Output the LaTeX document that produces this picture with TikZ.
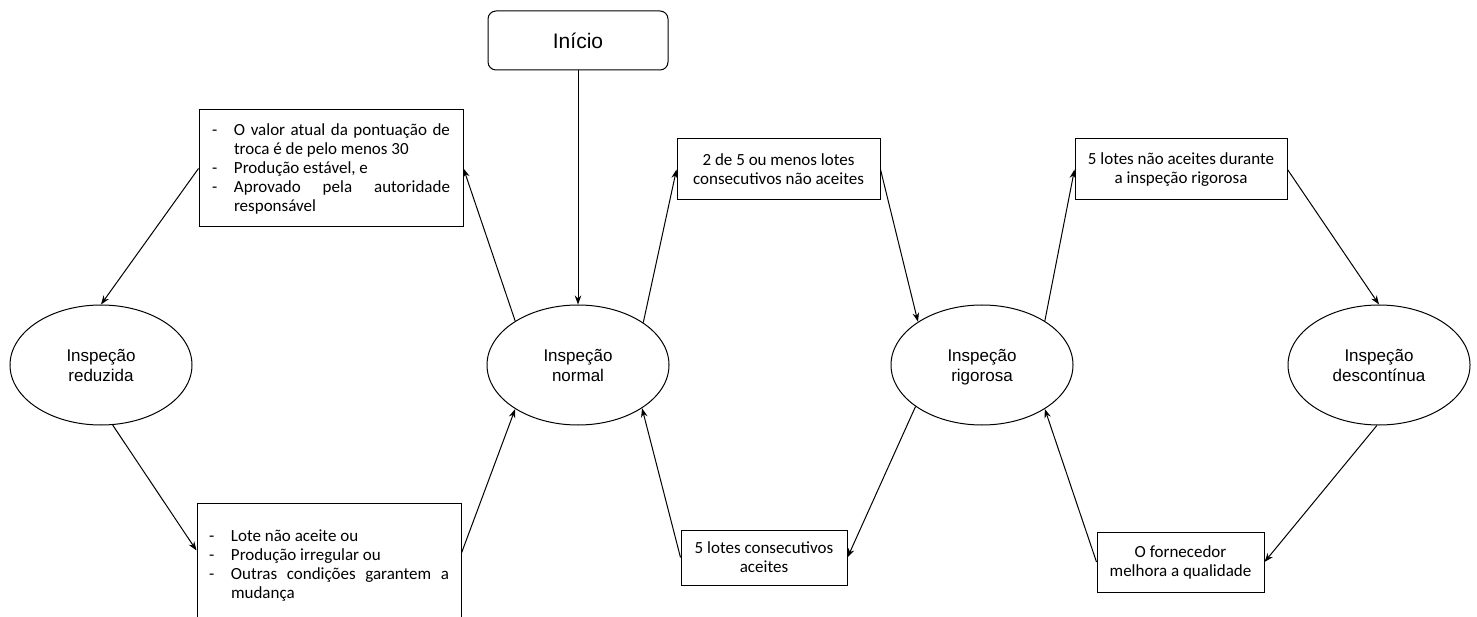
\documentclass[tikz,border=0pt]{standalone}
\usepackage{fontspec}
\setmainfont{Carlito}
\newfontfamily\arialfont{Liberation Sans}
\usetikzlibrary{arrows.meta,calc,shapes.geometric}

\tikzset{
  state/.style={draw, ellipse, line width=1pt, minimum width=182pt, minimum height=120pt,
    inner sep=0pt, align=center, text depth=0pt, font=\arialfont\fontsize{17}{20}\selectfont},
  cond/.style={draw, rectangle, line width=1pt, inner sep=0pt, align=center,
    font=\fontsize{17}{19}\selectfont},
  startbox/.style={draw, rectangle, rounded corners=8pt, line width=1pt,
    minimum width=180pt, minimum height=59pt, inner sep=0pt,
    font=\arialfont\fontsize{21}{24}\selectfont},
  flow/.style={line width=1pt, -{Stealth[length=9pt,width=6.5pt]}}
}

% dash-led item with a hanging indent
\newcommand{\dashitem}[1]{{\hangindent=22pt\hangafter=1\noindent\makebox[22pt][l]{-}#1\par}}

\begin{document}
\begin{tikzpicture}[x=1pt, y=-1pt]
  \useasboundingbox (0,0) rectangle (1477,617);
  \clip (0,0) rectangle (1477,617);

  % start
  \node[startbox] (inicio) at (578,40.5) {Início};

  % inspection states
  \node[state] (red)  at (101,365)  {Inspeção\\reduzida};
  \node[state] (norm) at (578,365)  {Inspeção\\normal};
  \node[state] (rig)  at (982,365)  {Inspeção\\rigorosa};
  \node[state] (desc) at (1379,365) {Inspeção\\descontínua};

  % switching conditions
  \node[cond, minimum width=264pt, minimum height=117pt, text width=238pt, align=justify]
    (c1) at (331,168.5) {%
      \dashitem{O valor atual da pontuação de\linebreak troca é de pelo menos 30}%
      \dashitem{Produção estável, e}%
      \dashitem{Aprovado pela autoridade\linebreak responsável}};
  \node[cond, minimum width=264pt, minimum height=124pt, text width=240pt, align=justify,
        anchor=north] (c2) at (329,503) {%
      \dashitem{Lote não aceite ou}%
      \dashitem{Produção irregular ou}%
      \dashitem{Outras condições garantem a\linebreak mudança}};
  \node[cond, minimum width=203pt, minimum height=61pt] (c3) at (778.5,169.5)
    {2 de 5 ou menos lotes\\consecutivos não aceites};
  \node[cond, minimum width=212pt, minimum height=61pt] (c4) at (1181,169.5)
    {5 lotes não aceites durante\\a inspeção rigorosa};
  \node[cond, minimum width=166pt, minimum height=55pt] (c5) at (764,557.5)
    {5 lotes consecutivos\\aceites};
  \node[cond, minimum width=167pt, minimum height=60pt] (c6) at (1180.5,562)
    {O fornecedor\\melhora a qualidade};

  % transitions
  \draw[flow] (inicio.south) -- (norm.north);
  \draw[flow] (norm.145.7) -- (c1.east);
  \draw[flow] (c1.west) -- (red.north);
  \draw[flow] (red.281) -- ($(c2.north west)!0.38!(c2.south west)$);
  \draw[flow] ($(c2.north east)!0.40!(c2.south east)$) -- (norm.215.5);
  \draw[flow] (norm.33) -- (c3.west);
  \draw[flow] (c3.east) -- (rig.146.5);
  \draw[flow] (rig.35) -- (c4.west);
  \draw[flow] (c4.east) -- (desc.north);
  \draw[flow] (desc.268) -- (c6.east);
  \draw[flow] (c6.west) -- (rig.325);
  \draw[flow] (rig.212.7) -- (c5.east);
  \draw[flow] (c5.west) -- (norm.326);
\end{tikzpicture}
\end{document}
